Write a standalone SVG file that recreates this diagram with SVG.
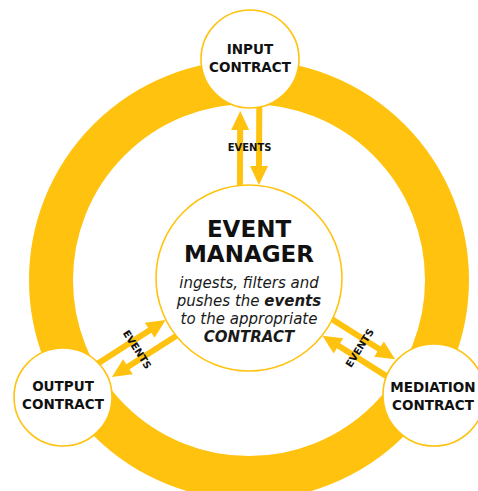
<svg xmlns="http://www.w3.org/2000/svg" width="478" height="491" viewBox="0 0 478 491">
<style>
.ring{fill:none;stroke:#FFC20E;stroke-width:44}
.node{fill:#fff;stroke:#FFC20E;stroke-width:1.6}
.arrow{fill:#FFC20E}
.lbl{font-family:"DejaVu Sans",sans-serif;font-weight:700;font-size:13.5px;fill:#111;text-anchor:middle}
.title{font-family:"DejaVu Sans",sans-serif;font-weight:700;font-size:23px;fill:#111;text-anchor:middle}
.body{font-family:"DejaVu Sans",sans-serif;font-style:italic;font-size:15px;fill:#1a1a1a;text-anchor:middle}
.ev{font-family:"DejaVu Sans",sans-serif;font-weight:700;font-size:10px;fill:#111;text-anchor:middle;dominant-baseline:central}
</style>
<rect width="478" height="491" fill="#fff"/>
<circle class="ring" cx="249" cy="280" r="198"/>
<g id="connectors">
  <g transform="translate(250,59) rotate(90.26)">
    <path class="arrow" d="M52,9.5 L71,0.5 L71,6.5 L128,6.5 L128,12.5 L71,12.5 L71,18.5 Z"/>
    <path class="arrow" d="M47,-12.5 L107,-12.5 L107,-18.5 L126,-9.5 L107,-0.5 L107,-6.5 L47,-6.5 Z"/>
    <text class="ev" transform="translate(89,0) rotate(-90.26)">EVENTS</text>
  </g>
  <g transform="translate(63,397) rotate(-32.61)">
    <path class="arrow" d="M52,9.5 L71,0.5 L71,6.5 L130,6.5 L130,12.5 L71,12.5 L71,18.5 Z"/>
    <path class="arrow" d="M47,-12.5 L109,-12.5 L109,-18.5 L128,-9.5 L109,-0.5 L109,-6.5 L47,-6.5 Z"/>
    <text class="ev" transform="translate(88,0) rotate(90)">EVENTS</text>
  </g>
  <g transform="translate(434,395) rotate(-147.69)">
    <path class="arrow" d="M52,9.5 L71,0.5 L71,6.5 L128,6.5 L128,12.5 L71,12.5 L71,18.5 Z"/>
    <path class="arrow" d="M47,-12.5 L107,-12.5 L107,-18.5 L126,-9.5 L107,-0.5 L107,-6.5 L47,-6.5 Z"/>
    <text class="ev" transform="translate(88,0) rotate(90)">EVENTS</text>
  </g>
</g>
<g id="event-manager">
  <circle class="node" cx="249" cy="278" r="93"/>
  <text class="title" x="249" y="237">EVENT</text>
  <text class="title" x="249" y="262">MANAGER</text>
  <text class="body" x="249" y="288">ingests, filters and</text>
  <text class="body" x="249" y="306">pushes the <tspan font-weight="700">events</tspan></text>
  <text class="body" x="249" y="324">to the appropriate</text>
  <text class="body" x="249" y="342" font-weight="700">CONTRACT</text>
</g>
<g id="input-contract">
  <circle class="node" cx="250" cy="59" r="49"/>
  <text class="lbl" x="250" y="54">INPUT</text>
  <text class="lbl" x="250" y="72">CONTRACT</text>
</g>
<g id="output-contract">
  <circle class="node" cx="63" cy="397" r="49"/>
  <text class="lbl" x="63" y="391">OUTPUT</text>
  <text class="lbl" x="63" y="409">CONTRACT</text>
</g>
<g id="mediation-contract">
  <circle class="node" cx="434" cy="395" r="51"/>
  <text class="lbl" x="433" y="392">MEDIATION</text>
  <text class="lbl" x="433" y="409.5">CONTRACT</text>
</g>
</svg>
